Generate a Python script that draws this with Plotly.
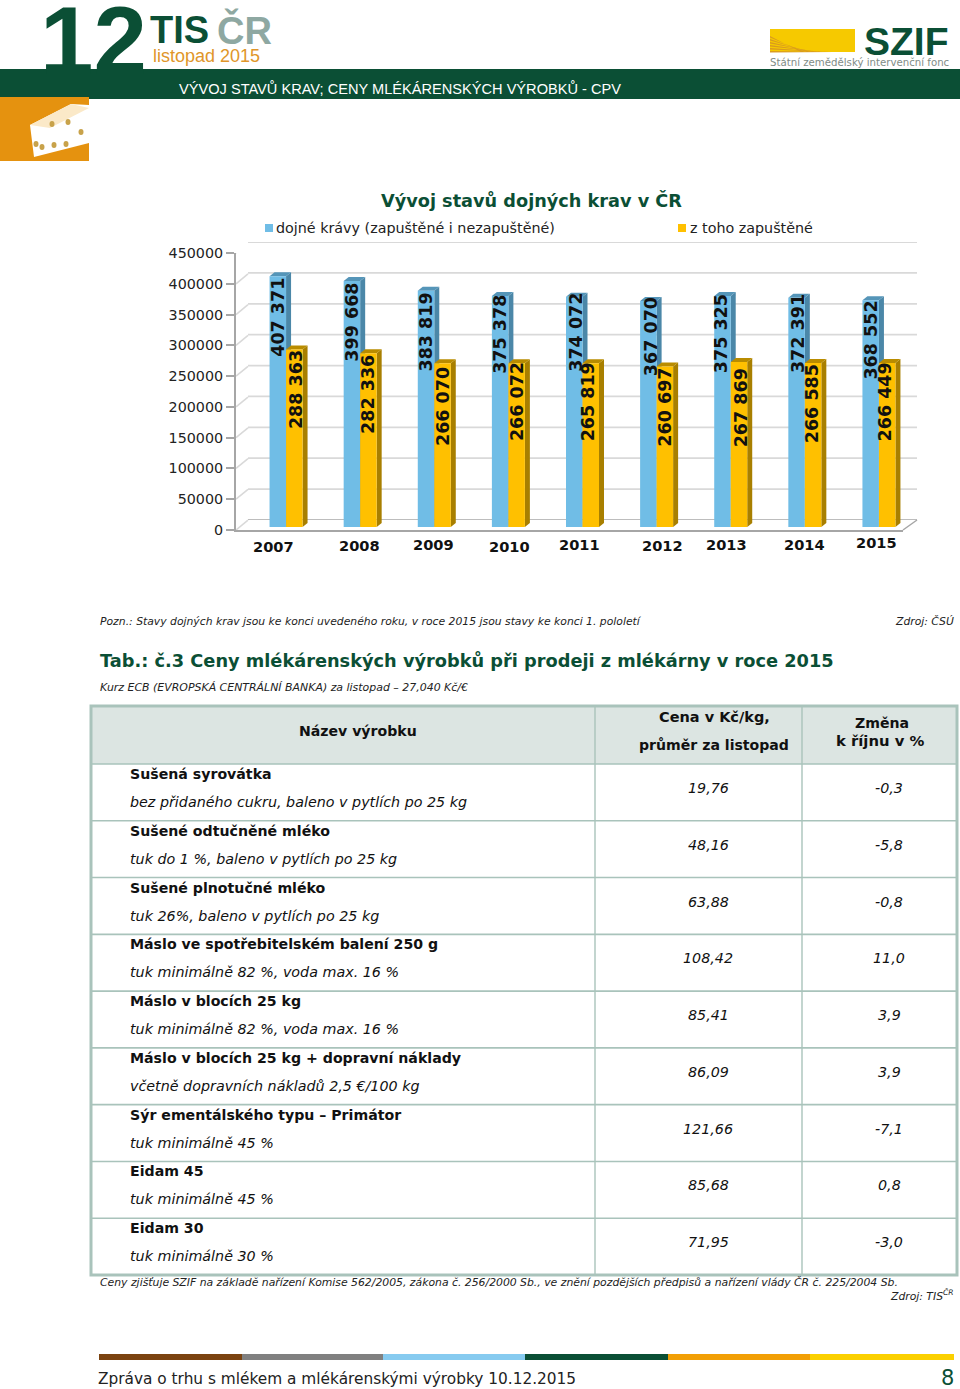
import plotly.graph_objects as go

W, H = 960, 1389

# ---- chart data
years = [2007, 2008, 2009, 2010, 2011, 2012, 2013, 2014, 2015]
dairy_cows = [407371, 399668, 383819, 375378, 374072, 367070, 375325, 372391, 368552]
inseminated = [288363, 282336, 266070, 266072, 265819, 260697, 267869, 266585, 266449]
y_ticks = [0, 50000, 100000, 150000, 200000, 250000, 300000, 350000, 400000, 450000]
series_names = ["dojné krávy (zapuštěné i nezapuštěné)", "z toho zapuštěné"]

# ---- table data
products = ["Sušená syrovátka", "Sušené odtučněné mléko", "Sušené plnotučné mléko",
            "Máslo ve spotřebitelském balení 250 g", "Máslo v blocích 25 kg",
            "Máslo v blocích 25 kg + dopravní náklady", "Sýr ementálského typu – Primátor",
            "Eidam 45", "Eidam 30"]
details = ["bez přidaného cukru, baleno v pytlích po 25 kg", "tuk do 1 %, baleno v pytlích po 25 kg",
           "tuk 26%, baleno v pytlích po 25 kg", "tuk minimálně 82 %, voda max. 16 %",
           "tuk minimálně 82 %, voda max. 16 %", "včetně dopravních nákladů 2,5 €/100 kg",
           "tuk minimálně 45 %", "tuk minimálně 45 %", "tuk minimálně 30 %"]
prices = ["19,76", "48,16", "63,88", "108,42", "85,41", "86,09", "121,66", "85,68", "71,95"]
changes = ["-0,3", "-5,8", "-0,8", "11,0", "3,9", "3,9", "-7,1", "0,8", "-3,0"]

# ---- placement jitter of the labels in the picture (pixels)
year_dx = [-13, -1, -1, 1, -3, 6, -4, 0, -2]
year_dy = [0, 1, 2, 0, 2, 1, 2, 2, 4]
blue_dy = [-2, -2, -2, -5, -8, -8, -6, -8, -4]
blue_dx = [0, 0, 0, 0, 2, 2, -1, 1, 0]
gold_dy = [-1, 0, 2, -3, -3, -1, 4, -1, -3]
gold_dx = [2, 0, 0, 0, -3, 0, 2, 0, -1]

FONT = "DejaVu Sans"
NAR = "Liberation Sans"
GREEN = "#0b4f35"
BLUE, BLUE_SIDE, BLUE_TOP = "#70bde6", "#4b87a8", "#5595b8"
GOLD, GOLD_SIDE, GOLD_TOP = "#ffc000", "#a87f00", "#b98c00"
GRID = "#d9d9d9"
AXIS = "#a6a6a6"
BORDER = "#a9c3bb"


def px(x):
    return x / W


def py(y):
    return 1 - y / H


shapes, annos = [], []


def rect(x0, y0, x1, y1, color, line=None, lw=0):
    shapes.append(dict(type="rect", xref="paper", yref="paper", x0=px(x0), x1=px(x1), y0=py(y1), y1=py(y0),
                       fillcolor=color, line=dict(color=line or color, width=lw), layer="above"))


def poly(points, color):
    d = "M" + " L".join(f"{px(a):.5f},{py(b):.5f}" for a, b in points) + " Z"
    shapes.append(dict(type="path", xref="paper", yref="paper", path=d, fillcolor=color, line=dict(width=0), layer="above"))


def hline(x0, x1, y, color, lw):
    shapes.append(dict(type="line", xref="paper", yref="paper", x0=px(x0), x1=px(x1), y0=py(y), y1=py(y),
                       line=dict(color=color, width=lw), layer="above"))


def vline(x, y0, y1, color, lw):
    shapes.append(dict(type="line", xref="paper", yref="paper", x0=px(x), x1=px(x), y0=py(y0), y1=py(y1),
                       line=dict(color=color, width=lw), layer="above"))


def text(x, y, s, size, color="#111111", anchor="left", family=FONT, **kw):
    # page-pixel axes (x4/y4) so that big text boxes never push the page margins
    annos.append(dict(xref="x4", yref="y4", x=x - (1 if anchor == "left" else 0), y=y, text=s, showarrow=False, xanchor=anchor,
                      yanchor="middle", borderpad=0, font=dict(family=family, size=size, color=color), **kw))


# ---- page header
rect(0, 69, 960, 99, GREEN)
text(40, 40, "<b>12</b>", 96, GREEN, family=NAR)
text(150, 30, "<b>TIS</b>", 38, GREEN, family=NAR)
text(217, 30, "<b>ČR</b>", 38, "#8ea8a2", family=NAR)
text(153, 56, "listopad 2015", 18, "#e0962a", family=NAR)
text(179, 88, "VÝVOJ STAVŮ KRAV; CENY MLÉKÁRENSKÝCH VÝROBKŮ - CPV", 14.6, "#ffffff", family=NAR)

rect(0, 97, 89, 161, "#e5920f")
poly([(30, 125), (71, 104), (89, 105), (89, 143), (34, 157)], "#ffffff")
poly([(30, 125), (71, 104), (89, 108), (50, 128)], "#fbe9c8")
for hx, hy in [(52, 124), (42, 147), (54, 145), (66, 144), (81, 132), (68, 122), (36, 144)]:
    shapes.append(dict(type="circle", xref="paper", yref="paper", x0=px(hx - 2.5), x1=px(hx + 2.5),
                       y0=py(hy + 3), y1=py(hy - 3), fillcolor="#c8a24a", line=dict(width=0), layer="above"))

rect(770, 29, 855, 52, "#f6c900")
for k in range(6):
    poly([(770, 36 + k * 3), (770, 37.5 + k * 3), (805 + k * 6, 52), (801 + k * 6, 52)], "#d99a1f")
text(864, 41, "<b>SZIF</b>", 39, GREEN, family=NAR)
text(770, 62, "Státní zemědělský intervenční fonc", 10.2, "#7f8c86")

# ---- chart titles and legend
text(531, 200, "<b>Vývoj stavů dojných krav v ČR</b>", 17.7, GREEN, "center")
rect(265, 224, 273, 232, BLUE)
text(276, 228, series_names[0], 14.3, "#222222")
rect(678, 224, 686, 232, GOLD)
text(690, 228, series_names[1], 14.3, "#222222")

# ---- chart: three planes (back wall, front axes, bars)
fig = go.Figure()
fig.add_trace(go.Bar(x=years, y=dairy_cows, name=series_names[0], marker=dict(color=BLUE, line_width=0),
                     xaxis="x3", yaxis="y3", showlegend=False, hoverinfo="x+y"))
fig.add_trace(go.Bar(x=years, y=inseminated, name=series_names[1], marker=dict(color=GOLD, line_width=0),
                     xaxis="x3", yaxis="y3", showlegend=False, hoverinfo="x+y"))

BW = 16.5         # px width of a bar
DX = 5            # px depth to the right
DY = 6500         # depth upwards, in value units (about 4 px)

# back wall gridlines and side-wall connectors
for v in y_ticks:
    shapes.append(dict(type="line", xref="paper", yref="y", x0=px(248), x1=px(917), y0=v, y1=v,
                       line=dict(color="#bdbdbd" if v == 0 else GRID, width=1.8), layer="below"))
    shapes.append(dict(type="path", xref="paper", yref="y2", xsizemode="pixel", xanchor=px(236),
                       path=f"M0,{v} L12,{v + 16000}", line=dict(color=GRID, width=1.6), layer="below"))
shapes.append(dict(type="line", xref="paper", yref="paper", x0=px(903), x1=px(917), y0=py(530), y1=py(520),
                   line=dict(color=AXIS, width=1.5), layer="below"))


def face(year, path, color):
    shapes.append(dict(type="path", xref="x3", yref="y3", xsizemode="pixel", xanchor=year, path=path,
                       fillcolor=color, line=dict(width=0), layer="below"))


for yr, a, b in zip(years, dairy_cows, inseminated):
    face(yr, f"M0,0 L{DX},{DY} L{DX},{a + DY} L0,{a} Z", BLUE_SIDE)
    face(yr, f"M{-BW},{a} L{-BW + DX},{a + DY} L{DX},{a + DY} L0,{a} Z", BLUE_TOP)
for yr, a, b in zip(years, dairy_cows, inseminated):
    face(yr, f"M{BW},0 L{BW + DX},{DY} L{BW + DX},{b + DY} L{BW},{b} Z", GOLD_SIDE)
    face(yr, f"M0,{b} L{DX},{b + DY} L{BW + DX},{b + DY} L{BW},{b} Z", GOLD_TOP)


def spaced(v):
    s = str(v)
    return s[:-3] + " " + s[-3:]


for i, yr in enumerate(years):
    annos.append(dict(xref="x3", yref="y3", x=yr, y=dairy_cows[i], text=f"<b>{spaced(dairy_cows[i])}</b>", textangle=-90,
                      showarrow=False, xanchor="center", yanchor="top", xshift=-8 + blue_dx[i], yshift=-3 - blue_dy[i],
                      borderpad=0, font=dict(family=FONT, size=17.5, color="#111111")))
    annos.append(dict(xref="x3", yref="y3", x=yr, y=inseminated[i], text=f"<b>{spaced(inseminated[i])}</b>", textangle=-90,
                      showarrow=False, xanchor="center", yanchor="top", xshift=8 + gold_dx[i], yshift=-1 - gold_dy[i],
                      borderpad=0, font=dict(family=FONT, size=17.5, color="#111111")))
    annos.append(dict(xref="x3", yref="y4", x=yr, y=546, text=f"<b>{yr}</b>", showarrow=False, xanchor="center",
                      yanchor="middle", xshift=year_dx[i], yshift=year_dy[i], borderpad=0,
                      font=dict(family=FONT, size=14.6, color="#111111")))

# ---- text under chart
text(100, 621, "<i>Pozn.: Stavy dojných krav jsou ke konci uvedeného roku, v roce 2015 jsou stavy ke konci 1. pololetí</i>", 10.8, "#222222")
text(955, 621, "<i>Zdroj: ČSÚ</i>", 10.8, "#222222", "right")
text(100, 660, "<b>Tab.: č.3 Ceny mlékárenských výrobků při prodeji z mlékárny v roce 2015</b>", 17.75, GREEN)
text(100, 687, "<i>Kurz ECB (EVROPSKÁ CENTRÁLNÍ BANKA) za listopad – 27,040 Kč/€</i>", 10.95, "#222222")

# ---- table
TX0, TX1, TY0, TY1 = 91, 957, 706, 1275
HEAD = 764
COL1, COL2 = 595, 802
ROW = (TY1 - HEAD) / len(products)
rect(TX0, TY0, TX1, HEAD, "#dce5e2")
for i in range(1, len(products)):
    hline(TX0, TX1, HEAD + i * ROW, BORDER, 1.6)
hline(TX0, TX1, HEAD, BORDER, 1.6)
vline(COL1, TY0, TY1, BORDER, 1.4)
vline(COL2, TY0, TY1, BORDER, 1.4)
shapes.append(dict(type="rect", xref="paper", yref="paper", x0=px(TX0), x1=px(TX1), y0=py(TY1), y1=py(TY0),
                   line=dict(color=BORDER, width=3), layer="above"))

text(358, 731, "<b>Název výrobku</b>", 14.1, "#111111", "center")
text(714, 717, "<b>Cena v Kč/kg,</b>", 14.5, "#111111", "center")
text(714, 745, "<b>průměr za listopad</b>", 14.1, "#111111", "center")
text(882, 723, "<b>Změna</b>", 14.1, "#111111", "center")
text(880, 740, "<b>k říjnu v %</b>", 14.8, "#111111", "center")
for i in range(len(products)):
    top = HEAD + i * ROW
    text(130, top + 10, f"<b>{products[i]}</b>", 14.15)
    text(130, top + 38, f"<i>{details[i]}</i>", 14.3)
    text(708, top + 24, f"<i>{prices[i]}</i>", 14.3, "#111111", "center")
    text(889, top + 24, f"<i>{changes[i]}</i>", 14.3, "#111111", "center")

text(100, 1282, "<i>Ceny zjišťuje SZIF na základě nařízení Komise 562/2005, zákona č. 256/2000 Sb., ve znění pozdějších předpisů a nařízení vlády ČR č. 225/2004 Sb.</i>", 10.83, "#222222")
text(955, 1295, "<i>Zdroj: TIS<sup>ČR</sup></i>", 10.8, "#222222", "right")

# ---- footer
footer = ["#7b4310", "#808080", "#87cbf0", "#0b4f35", "#f29f05", "#fbd000"]
edges = [99, 242, 383, 525, 668, 810, 954]
for k, c in enumerate(footer):
    rect(edges[k], 1354, edges[k + 1], 1360, c)
text(98, 1379, "Zpráva o trhu s mlékem a mlékárenskými výrobky 10.12.2015", 15.35, "#222222")
text(955, 1378, "8", 21, GREEN, "right")

common_y = dict(range=[0, 450000], tickvals=y_ticks, tickformat="d")
fig.update_layout(
    width=W, height=H, autosize=False, margin=dict(l=0, r=0, t=0, b=0, pad=0, autoexpand=False),
    paper_bgcolor="white", plot_bgcolor="rgba(0,0,0,0)", showlegend=False,
    barmode="group", bargap=0.5547, bargroupgap=0,
    # back wall
    xaxis=dict(domain=[px(248), px(917)], range=[0, 1], anchor="y", showgrid=False, zeroline=False, showline=False,
               showticklabels=False, ticks=""),
    yaxis=dict(domain=[py(520), py(242)], anchor="x", showgrid=False, zeroline=False,
               showticklabels=False, ticks="", showline=False, **common_y),
    # front axes
    xaxis2=dict(domain=[px(236), px(903)], range=[0, 1], anchor="y2", showgrid=False, zeroline=False, showline=True,
                linecolor=AXIS, linewidth=2, showticklabels=False, ticks=""),
    yaxis2=dict(domain=[py(530), py(253)], anchor="x2", showgrid=False, zeroline=False, showline=True, linecolor=AXIS,
                linewidth=2, ticks="outside", ticklen=8, tickcolor=AXIS, tickwidth=1.5, ticklabelstandoff=0,
                tickfont=dict(family=FONT, size=14.3, color="#222222"), **common_y),
    # bars
    xaxis3=dict(domain=[px(249), px(916)], range=[2006.5, 2015.5], anchor="y3", visible=False),
    yaxis3=dict(domain=[py(527), py(250)], anchor="x3", visible=False, range=[0, 450000]),
    # page-pixel axes for free text
    xaxis4=dict(domain=[0, 1], range=[0, W], anchor="y4", visible=False),
    yaxis4=dict(domain=[0, 1], range=[H, 0], anchor="x4", visible=False),
    shapes=shapes, annotations=annos, font=dict(family=FONT),
)
fig.write_html("out.html", config=dict(displayModeBar=False),
               post_script="document.body.style.margin='0';document.documentElement.style.margin='0';")
